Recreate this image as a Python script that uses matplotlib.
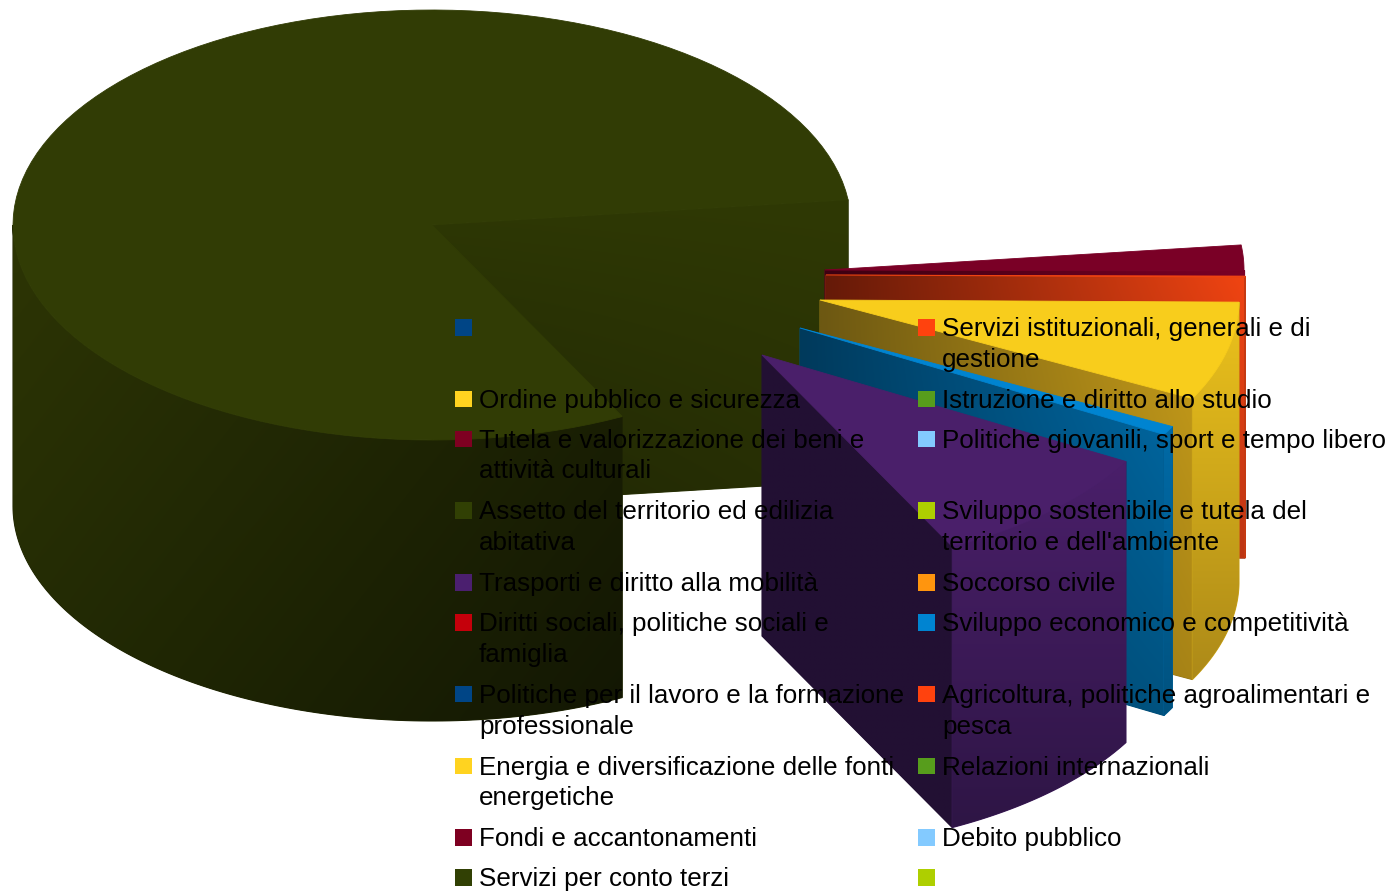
import numpy as np
import matplotlib
matplotlib.use("Agg")
import matplotlib.pyplot as plt
from matplotlib.colors import to_rgb
from matplotlib.patches import Polygon

# ========= DATA =========
legend_left = ["", "Ordine pubblico e sicurezza",
               "Tutela e valorizzazione dei beni e\nattività culturali",
               "Assetto del territorio ed edilizia\nabitativa",
               "Trasporti e diritto alla mobilità",
               "Diritti sociali, politiche sociali e\nfamiglia",
               "Politiche per il lavoro e la formazione\nprofessionale",
               "Energia e diversificazione delle fonti\nenergetiche",
               "Fondi e accantonamenti",
               "Servizi per conto terzi"]
legend_right = ["Servizi istituzionali, generali e di\ngestione",
                "Istruzione e diritto allo studio",
                "Politiche giovanili, sport e tempo libero",
                "Sviluppo sostenibile e tutela del\nterritorio e dell'ambiente",
                "Soccorso civile",
                "Sviluppo economico e competitività",
                "Agricoltura, politiche agroalimentari e\npesca",
                "Relazioni internazionali",
                "Debito pubblico",
                ""]
colors_left = ["#004586", "#ffd320", "#7e0021", "#314004", "#4b1f6f",
               "#c5000b", "#004586", "#ffd320", "#7e0021", "#314004"]
colors_right = ["#ff420e", "#579d1c", "#83caff", "#aecf00", "#ff950e",
                "#0084d1", "#ff420e", "#579d1c", "#83caff", "#aecf00"]

# share of the pie in percent, clockwise from the top edge of the maroon slice
slice_names = ["Tutela", "Servizi", "Ordine", "Sviluppo economico", "Trasporti", "Assetto"]
slice_values = [1.94, 0.08, 7.42, 0.67, 9.25, 80.64]

# ========= SETTINGS =========
START_ANGLE = -6.7
CX, CY, RX, RY, H = 432, 225, 419, 215, 281
# explode offset in pixels, top colour, wall (left, right), outer wall (top, bottom)
slice_style = {
    "Tutela": dict(off=(393, 45), top="#7a0026", wall=("#3d0012", "#7a0026"),
                   wall_low=("#3d0012", "#7a0026"), outer=("#7a0026", "#7a0026")),
    "Servizi": dict(off=(394, 50), top="#ef4312", wall=("#661a08", "#f04412"),
                    wall_low=("#661a08", "#bd3614"), outer=("#c53a12", "#c53a12")),
    "Ordine": dict(off=(388, 75), top="#f8cd1c", wall=("#6d5812", "#c69c1a"),
                   wall_low=("#6d5812", "#a88416"), outer=("#ecc21c", "#ad8a18")),
    "Sviluppo economico": dict(off=(368, 103), top="#0084d1", wall=("#003a5c", "#006aa6"),
                               wall_low=("#003a5c", "#00527f"), outer=("#006aa6", "#00527f")),
    "Trasporti": dict(off=(330, 130), top="#4a1f6a", wall=("#231034", "#231034"),
                      wall_low=("#221033", "#221033"), outer=("#4a1f6a", "#2e1545")),
    "Assetto": dict(off=(0, 0), top="#313c05", wall=("#2e3805", "#2f3905"),
                    wall_low=("#1f2604", "#283005"), outer=("#1d2304", "#2d3505")),
}


# ========= HELPERS =========
def point(angle, dx, dy, drop=0):
    a = np.radians(angle)
    return CX + dx + RX * np.cos(a), CY + dy + RY * np.sin(a) + drop


def arc(a0, a1, dx, dy, drop=0):
    t = np.linspace(a0, a1, 120)
    xs, ys = point(t, dx, dy, drop)
    return np.column_stack([xs, ys])


def shade(ax, poly, tl, tr, bl, br, z):
    # bilinear fill between four corner colours, clipped to the polygon
    x0, x1 = poly[:, 0].min(), poly[:, 0].max()
    y0, y1 = poly[:, 1].min(), poly[:, 1].max()
    u, v = np.meshgrid(np.linspace(0, 1, 80), np.linspace(0, 1, 80))
    img = np.zeros((80, 80, 3))
    for i in range(3):
        img[:, :, i] = (to_rgb(tl)[i] * (1 - u) + to_rgb(tr)[i] * u) * (1 - v) + \
                       (to_rgb(bl)[i] * (1 - u) + to_rgb(br)[i] * u) * v
    # solid patch below the image closes the seams left by the clipped edges
    mean = tuple(img.reshape(-1, 3).mean(axis=0))
    ax.add_patch(Polygon(poly, closed=True, fc=mean, ec=mean, lw=0.8, zorder=z - 0.05))
    im = ax.imshow(img, extent=(x0, x1, y1, y0), aspect="auto",
                   interpolation="bilinear", zorder=z)
    clip = Polygon(poly, closed=True, transform=ax.transData)
    im.set_clip_path(clip)


def draw_slice(ax, a0, a1, style, z):
    dx, dy = style["off"]
    apex = np.array([[CX + dx, CY + dy]])
    end = np.array(point(a1, dx, dy))
    # flat wall along the closing edge
    wall = np.array([apex[0], end, end + [0, H], apex[0] + [0, H]])
    shade(ax, wall, style["wall"][0], style["wall"][1],
          style["wall_low"][0], style["wall_low"][1], z)
    # round outer wall, only the front half can be seen
    lo, hi = max(a0, 0), min(a1, 180)
    if hi > lo:
        outer = np.vstack([arc(lo, hi, dx, dy), arc(hi, lo, dx, dy, H)])
        if style is slice_style["Assetto"]:
            shade(ax, outer, "#2d3505", "#1d2304", "#222a04", "#131703", z + 0.1)
        else:
            shade(ax, outer, style["outer"][0], style["outer"][0],
                  style["outer"][1], style["outer"][1], z + 0.1)
    top = np.vstack([apex, arc(a0, a1, dx, dy)])
    ax.add_patch(Polygon(top, closed=True, fc=style["top"], ec=style["top"],
                         lw=0.6, zorder=z + 0.2))


# ========= PLOT =========
plt.rcParams["font.family"] = ["Liberation Sans", "DejaVu Sans"]
fig = plt.figure(figsize=(13.97, 8.93), dpi=100)
ax = fig.add_axes([0, 0, 1, 1])

edges = START_ANGLE + np.cumsum([0] + slice_values) * 3.6

# green body goes first, then the exploded slices from back to front
order = [5, 0, 1, 2, 3, 4]
for n, i in enumerate(order):
    draw_slice(ax, edges[i], edges[i + 1], slice_style[slice_names[i]], 2 + n)

# legend
y = 327
for left, right, c_l, c_r in zip(legend_left, legend_right, colors_left, colors_right):
    for x_box, label, col in ((455, left, c_l), (918, right, c_r)):
        ax.add_patch(plt.Rectangle((x_box, y - 8), 16.5, 16.5, fc=col, ec="none", zorder=20))
        if label:
            ax.text(x_box + 24, y - 10, label, fontsize=18.75, va="top", ha="left",
                    color="black", linespacing=1.36, zorder=21)
    lines = max(left.count("\n"), right.count("\n")) + 1
    y += lines * 32 + 7.8

ax.set_xlim(0, 1397)
ax.set_ylim(893, 0)
ax.axis("off")
fig.savefig("out.png", dpi=100)
